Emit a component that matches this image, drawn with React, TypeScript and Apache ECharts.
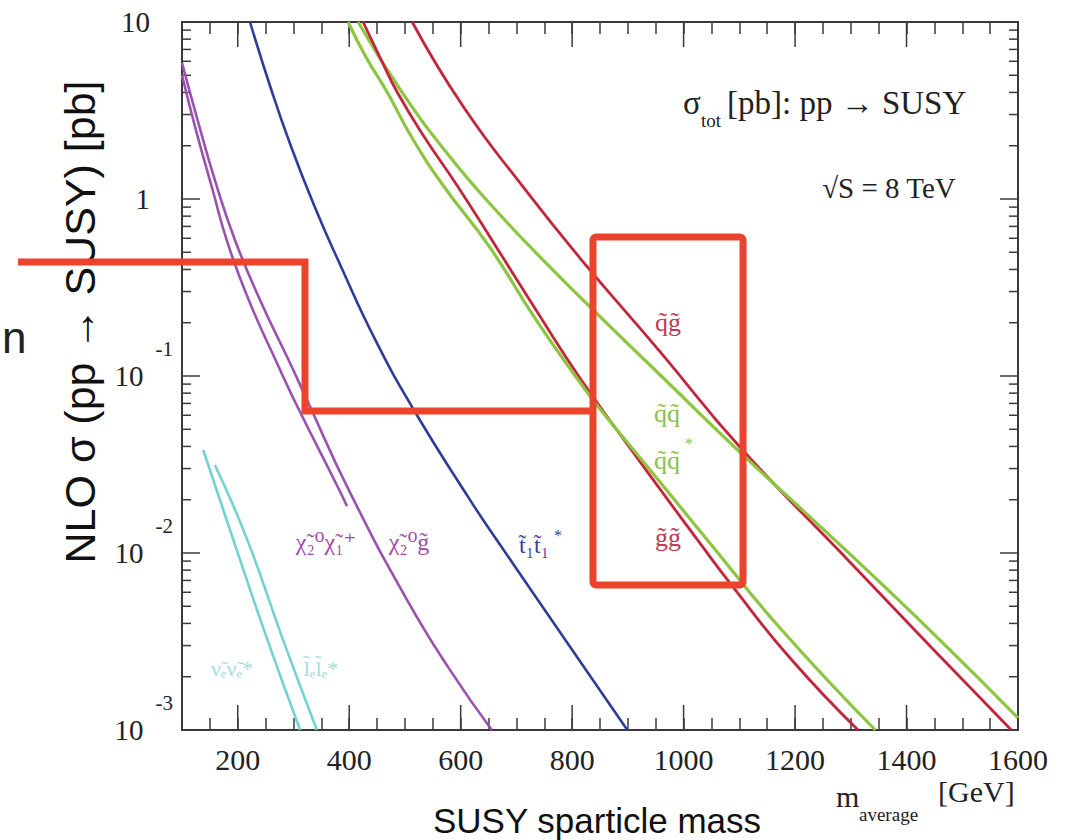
import React, { useEffect, useRef } from "react";
import * as echarts from "echarts";

// ---- data (m_average [GeV], sigma [pb]) ----
const X_MIN = 100;
const X_MAX = 1600;
const Y_MIN = 0.001;
const Y_MAX = 10;

const xMajorTicks = [200, 400, 600, 800, 1000, 1200, 1400, 1600];
const yMinorTicks = [
  0.002, 0.003, 0.004, 0.005, 0.006, 0.007, 0.008, 0.009,
  0.02, 0.03, 0.04, 0.05, 0.06, 0.07, 0.08, 0.09,
  0.2, 0.3, 0.4, 0.5, 0.6, 0.7, 0.8, 0.9,
  2, 3, 4, 5, 6, 7, 8, 9,
];

const squarkGluino = [[513, 10], [604, 3.35], [712, 1.17], [814, 0.464], [958, 0.137], [1101, 0.0397], [1300, 0.00878], [1449, 0.00283], [1588, 0.001]];
const squarkSquark = [[416, 10], [491, 4.18], [581, 1.727], [671, 0.812], [760, 0.413], [814, 0.2795], [958, 0.1013], [1101, 0.0372], [1300, 0.00975], [1449, 0.00348], [1600, 0.00117]];
const gluinoGluino = [[425, 10], [455, 6.34], [486, 4.02], [536, 2.21], [593, 1.2], [665, 0.529], [742, 0.218], [814, 0.0975], [922, 0.0327], [1029, 0.0114], [1083, 0.00678], [1191, 0.00255], [1313, 0.001]];
const squarkAntisquark = [[398, 10], [430, 6.34], [468, 4.02], [513, 2.21], [568, 1.2], [653, 0.529], [733, 0.213], [820, 0.0867], [863, 0.058], [940, 0.0294], [1047, 0.0114], [1173, 0.00377], [1344, 0.001]];
const stopStop = [[222, 10], [258, 4.35], [294, 2.045], [339, 0.889], [384, 0.424], [446, 0.162], [515, 0.0651], [617, 0.0199], [671, 0.0111], [778, 0.00358], [899, 0.001]];
const neutralinoGluino = [[100, 5.87], [129, 2.72], [159, 1.28], [195, 0.587], [240, 0.269], [294, 0.118], [326, 0.0713], [401, 0.0221], [504, 0.00542], [581, 0.00218], [656, 0.001]];
const neutralinoChargino = [[100, 5.02], [125, 2.45], [154, 1.154], [183, 0.55], [222, 0.2585], [272, 0.1153], [303, 0.0713], [384, 0.0221], [396, 0.0184]];
const sneutrinoPair = [[138, 0.0382], [192, 0.0119], [253, 0.00325], [312, 0.001]];
const sleptonPair = [[159, 0.0314], [217, 0.0119], [281, 0.00325], [342, 0.001]];

const RED = "#c3263b";
const GREEN = "#8cc540";
const BLUE = "#2f3c98";
const PURPLE = "#9a52b0";
const CYAN = "#72d4d0";
const ANNOT = "#ec432c";
const AXIS = "#3a3a3a";
const SERIF = "'Liberation Serif', 'DejaVu Serif', serif";
const SANS = "'Liberation Sans', Arial, sans-serif";

function curve(name: string, data: number[][], color: string, width = 2.6) {
  return {
    name,
    type: "line",
    data,
    smooth: 0.5,
    showSymbol: false,
    symbol: "none",
    lineStyle: { color, width },
    z: 3,
  };
}

function label(text: string, x: number, y: number, color: string, size = 25, align = "center") {
  return {
    type: "text",
    x,
    y,
    z: 50,
    style: {
      text,
      fill: color,
      fontSize: size,
      fontFamily: SERIF,
      align,
      textAlign: align,
      verticalAlign: "middle",
      textVerticalAlign: "middle",
    },
  };
}

export default function App() {
  const ref = useRef<HTMLDivElement>(null);

  useEffect(() => {
    if (!ref.current) return;
    const chart = echarts.init(ref.current, null, { renderer: "svg" });

    const xAxisBase = {
      type: "value",
      min: X_MIN,
      max: X_MAX,
      interval: 50,
      axisLine: { show: true, lineStyle: { color: AXIS, width: 2 } },
      axisTick: { show: true, inside: true, length: 12, lineStyle: { color: AXIS, width: 1.5 } },
      splitLine: { show: false },
    };
    const yAxisBase = {
      type: "log",
      logBase: 10,
      min: Y_MIN,
      max: Y_MAX,
      axisLine: { show: true, lineStyle: { color: AXIS, width: 2 } },
      axisTick: { show: true, inside: true, length: 18, lineStyle: { color: AXIS, width: 1.5 } },
      splitLine: { show: false },
      minorTick: { show: false },
    };

    const option: any = {
      animation: false,
      backgroundColor: "#ffffff",
      grid: { left: 182, right: 48, top: 22, bottom: 110, containLabel: false },
      xAxis: [
        {
          ...xAxisBase,
          position: "bottom",
          axisLabel: {
            show: true,
            margin: 14,
            color: "#222",
            fontSize: 30,
            fontFamily: SERIF,
            formatter: (v: number) => (v % 200 === 0 ? String(v) : ""),
          },
        },
        { ...xAxisBase, position: "top", axisLabel: { show: false } },
      ],
      yAxis: [
        {
          ...yAxisBase,
          position: "left",
          axisLabel: {
            show: true,
            margin: 9,
            align: "right",
            color: "#222",
            fontFamily: SERIF,
            formatter: (v: number) => {
              const e = Math.round(Math.log10(v));
              if (e >= 1) return "{p|10}";
              if (e === 0) return "{p|1}";
              return "{b|10}{e|" + e + "}";
            },
            rich: {
              p: { fontSize: 29, fontFamily: SERIF, color: "#222", padding: [0, 23, 0, 0], verticalAlign: "middle" },
              b: { fontSize: 29, fontFamily: SERIF, color: "#222", verticalAlign: "middle" },
              e: { fontSize: 21, fontFamily: SERIF, color: "#222", verticalAlign: "top", padding: [0, 0, 54, 12] },
            },
          },
        },
        { ...yAxisBase, position: "right", axisLabel: { show: false } },
      ],
      series: [
        curve("q~g~", squarkGluino, RED, 2.8),
        curve("q~q~", squarkSquark, GREEN, 3.2),
        curve("g~g~", gluinoGluino, RED, 2.8),
        curve("q~q~*", squarkAntisquark, GREEN, 3.2),
        curve("t1t1*", stopStop, BLUE, 2.6),
        curve("chi20 g~", neutralinoGluino, PURPLE, 2.6),
        curve("chi20 chi1+", neutralinoChargino, PURPLE, 2.6),
        curve("snu snu*", sneutrinoPair, CYAN, 2.6),
        curve("l~ l~*", sleptonPair, CYAN, 2.6),
        {
          type: "custom",
          name: "xMajorTicks",
          silent: true,
          data: xMajorTicks.map((v) => [v, 1]),
          renderItem: (params: any, api: any) => {
            const v = api.value(0);
            const b = api.coord([v, Y_MIN]);
            const t = api.coord([v, Y_MAX]);
            const st = { stroke: AXIS, lineWidth: 1.5 };
            return {
              type: "group",
              children: [
                { type: "line", shape: { x1: b[0], y1: b[1], x2: b[0], y2: b[1] - 25 }, style: st },
                { type: "line", shape: { x1: t[0], y1: t[1], x2: t[0], y2: t[1] + 25 }, style: st },
              ],
            };
          },
          z: 2,
        },
        {
          type: "custom",
          name: "yMinorTicks",
          silent: true,
          data: yMinorTicks.map((v) => [1000, v]),
          renderItem: (params: any, api: any) => {
            const v = api.value(1);
            const l = api.coord([X_MIN, v]);
            const r = api.coord([X_MAX, v]);
            const st = { stroke: AXIS, lineWidth: 1.5 };
            return {
              type: "group",
              children: [
                { type: "line", shape: { x1: l[0], y1: l[1], x2: l[0] + 9, y2: l[1] }, style: st },
                { type: "line", shape: { x1: r[0], y1: r[1], x2: r[0] - 9, y2: r[1] }, style: st },
              ],
            };
          },
          z: 2,
        },
      ],
      graphic: [
        // axis titles
        {
          type: "text",
          x: 80,
          y: 322,
          rotation: Math.PI / 2,
          z: 20,
          style: {
            text: "NLO σ (pp → SUSY) [pb]",
            fill: "#111",
            fontSize: 43,
            fontFamily: SANS,
            align: "center",
            textAlign: "center",
            verticalAlign: "middle",
            textVerticalAlign: "middle",
          },
        },
        {
          type: "text",
          x: 2,
          y: 337,
          z: 20,
          style: { text: "n", fill: "#222", fontSize: 44, fontFamily: SANS, align: "left", textAlign: "left", verticalAlign: "middle", textVerticalAlign: "middle" },
        },
        {
          type: "text",
          x: 597,
          y: 820,
          z: 20,
          style: { text: "SUSY sparticle mass", fill: "#111", fontSize: 35, fontFamily: SANS, align: "center", textAlign: "center", verticalAlign: "middle", textVerticalAlign: "middle" },
        },
        label("m", 836, 796, "#222", 30, "left"),
        label("average", 859, 814, "#222", 19, "left"),
        label("[GeV]", 938, 791, "#222", 30, "left"),
        // in-plot annotations
        label("σ", 683, 103, "#222", 33, "left"),
        label("tot", 701, 120, "#222", 19, "left"),
        label("[pb]: pp → SUSY", 727, 103, "#222", 33, "left"),
        label("√S = 8 TeV", 889, 188, "#222", 29),
        label("q\u0303g\u0303", 668, 322, "#c23a55", 26),
        label("q\u0303q\u0303", 667, 413, "#8cbf4e", 26),
        label("q\u0303q\u0303", 667, 460, "#8cbf4e", 26),
        label("*", 689, 443, "#8cbf4e", 16),
        label("g\u0303g\u0303", 668, 537, "#c23a55", 26),
        label("χ\u0303₂⁰χ\u0303₁⁺", 326, 542, "#a04aa6", 24),
        label("χ\u0303₂⁰g\u0303", 409, 542, "#a04aa6", 24),
        label("t\u0303₁t\u0303₁", 534, 545, "#3b3f9c", 24),
        label("*", 558, 535, "#3b3f9c", 16),
        label("ν\u0303ₑν\u0303ₑ*", 232, 668, "#a3ddd8", 22),
        label("l\u0303ₑl\u0303ₑ*", 321, 668, "#a3ddd8", 22),
        // red annotations
        {
          type: "rect",
          z: 100,
          shape: { x: 593, y: 237, width: 150, height: 348, r: 3 },
          style: { fill: "none", stroke: ANNOT, lineWidth: 7 },
        },
        {
          type: "polyline",
          z: 100,
          shape: { points: [[18, 262], [305, 262], [305, 411], [593, 411]] },
          style: { fill: "none", stroke: ANNOT, lineWidth: 7, lineJoin: "miter" },
        },
      ],
    };

    chart.setOption(option);
    return () => chart.dispose();
  }, []);

  return (
    <div
      ref={ref}
      style={{ position: "fixed", left: 0, top: 0, width: 1066, height: 840, background: "#fff" }}
    />
  );
}
